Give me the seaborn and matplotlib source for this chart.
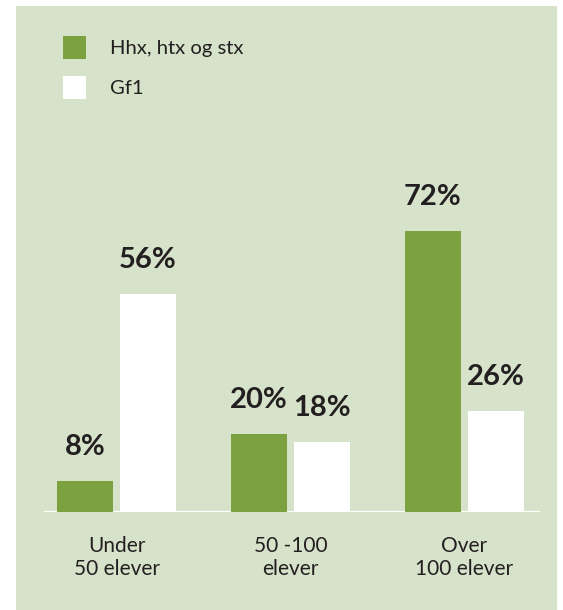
import pandas as pd
import matplotlib.pyplot as plt
import seaborn as sns
from matplotlib.patches import Rectangle

##### DATA #####
categories = ["Under\n50 elever", "50 -100\nelever", "Over\n100 elever"]
series = ["Hhx, htx og stx", "Gf1"]
hhx = [8, 20, 72]
gf1 = [56, 18, 26]

df = pd.DataFrame({
    "gruppe": categories * 2,
    "uddannelse": [series[0]] * 3 + [series[1]] * 3,
    "andel": hhx + gf1,
})

##### STYLE #####
PANEL = "#d6e2c9"
GREEN = "#7ba23f"
INK = "#231f20"

sns.set_theme(style="white")
plt.rcParams['font.family'] = ['Lato', 'DejaVu Sans']
plt.rcParams['text.color'] = INK

W, H = 563, 610
fig = plt.figure(figsize=(W / 100, H / 100), dpi=100, facecolor='white')
fig.patches.append(Rectangle((16 / W, 0), (557 - 16) / W, (610 - 6) / H,
                             transform=fig.transFigure, facecolor=PANEL,
                             edgecolor='none', zorder=-1))

ax = fig.add_axes([44 / W, 98 / H, (540 - 44) / W, 390 / H])
ax.set_facecolor('none')

##### GRAPH #####
sns.barplot(data=df, x="gruppe", y="andel", hue="uddannelse",
            palette=[GREEN, 'white'], width=0.724, gap=0.11,
            saturation=1, linewidth=0, ax=ax)

for c in ax.containers:
    ax.bar_label(c, fmt='{:.0f}%', padding=15, fontsize=21,
                 fontweight='bold', color=INK)

ax.axhline(0, color='white', lw=1.5, zorder=0.5)
ax.set_xlim(-0.4167, 2.434)
ax.set_ylim(0, 100)
ax.set_xlabel("")
ax.set_ylabel("")
ax.set_yticks([])
ax.tick_params(axis='x', length=0, labelsize=15, pad=17, labelcolor=INK)
sns.despine(ax=ax, left=True, bottom=True)

handles, labels = ax.get_legend_handles_labels()
ax.legend(handles, labels, loc='upper left',
          bbox_to_anchor=(63 / W, 1 - 36 / H), bbox_transform=fig.transFigure,
          frameon=False, fontsize=14.6, handlelength=1.13, handleheight=1.4,
          handletextpad=1.19, labelspacing=0.8, borderpad=0, borderaxespad=0)

plt.savefig("out.png", dpi=100, facecolor='white')
